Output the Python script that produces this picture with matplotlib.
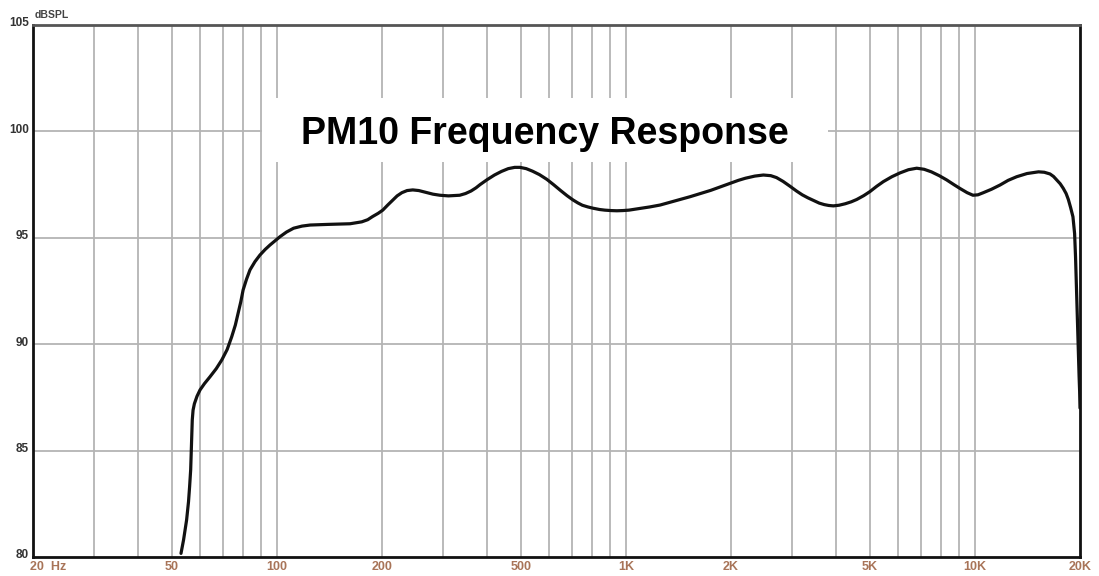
import matplotlib
matplotlib.use("Agg")
import matplotlib.pyplot as plt
import matplotlib.transforms as mtransforms
from matplotlib.patches import Rectangle

# ---- data ----
freq_hz = [53.1, 54.0, 55.1, 55.8, 56.2, 56.6, 56.8, 57.0, 57.2, 57.5, 58.0, 59.0,
           60.2, 62.0, 64.3, 67.0, 69.5, 72.0, 74.2, 76.0, 77.4, 78.8, 80.0, 81.8,
           83.7, 86.5, 89.4, 92.5, 95.5, 99, 102, 106.5, 111.6, 118, 124.5, 140,
           162, 175, 182, 188, 195, 201, 208, 215, 221, 228, 236, 245, 255, 265,
           280, 293, 310, 334, 347, 360, 372, 382, 400, 420, 440, 460, 480, 497,
           518, 540, 565, 593, 620, 650, 678, 705, 728, 750, 778, 805, 840, 870,
           905, 942, 980, 1020, 1060, 1097, 1170, 1253, 1380, 1526, 1650, 1750,
           1870, 1986, 2100, 2200, 2340, 2476, 2600, 2700, 2820, 2953, 3080, 3200,
           3320, 3444, 3580, 3700, 3810, 3929, 4080, 4250, 4420, 4584, 4800, 5000,
           5230, 5465, 5780, 6100, 6450, 6810, 7150, 7500, 7900, 8298, 8700, 9100,
           9500, 9870, 10200, 10570, 11150, 11800, 12450, 13170, 14100, 15210,
           15800, 16410, 16800, 17150, 17550, 17900, 18250, 18520, 18800, 19090,
           19300, 19420, 19520, 19610, 19700, 19800, 19880, 19950, 20000]
spl_db = [80.17, 80.8, 81.74, 82.6, 83.3, 84.1, 84.87, 85.7, 86.44, 86.9, 87.2, 87.55,
          87.85, 88.15, 88.47, 88.85, 89.26, 89.75, 90.35, 90.9, 91.45, 92.0, 92.55,
          93.05, 93.49, 93.88, 94.19, 94.45, 94.66, 94.87, 95.05, 95.27, 95.45, 95.55,
          95.6, 95.63, 95.66, 95.75, 95.85, 96.0, 96.15, 96.3, 96.55, 96.78, 96.97,
          97.12, 97.22, 97.25, 97.22, 97.15, 97.05, 97.0, 96.97, 97.0, 97.08, 97.2,
          97.35, 97.5, 97.73, 97.95, 98.12, 98.25, 98.31, 98.31, 98.25, 98.13, 97.97,
          97.75, 97.5, 97.22, 96.98, 96.78, 96.64, 96.53, 96.45, 96.39, 96.33, 96.3,
          96.28, 96.27, 96.28, 96.3, 96.34, 96.38, 96.45, 96.54, 96.73, 96.93, 97.1,
          97.23, 97.4, 97.55, 97.7, 97.8, 97.9, 97.95, 97.92, 97.83, 97.65, 97.42,
          97.2, 97.02, 96.88, 96.76, 96.63, 96.56, 96.52, 96.5, 96.53, 96.6, 96.69,
          96.8, 96.98, 97.17, 97.42, 97.64, 97.87, 98.05, 98.2, 98.27, 98.22, 98.1,
          97.92, 97.72, 97.5, 97.3, 97.12, 97.0, 97.02, 97.12, 97.28, 97.48, 97.7,
          97.87, 98.02, 98.1, 98.08, 98.0, 97.88, 97.72, 97.54, 97.33, 97.08, 96.8,
          96.42, 95.99, 95.2, 94.1, 92.85, 91.6, 90.5, 89.4, 88.5, 87.8, 87.0]

x_ticks = [20, 50, 100, 200, 500, 1000, 2000, 5000, 10000, 20000]
x_tick_labels = ["20  Hz", "50", "100", "200", "500", "1K", "2K", "5K", "10K", "20K"]
y_ticks = [80, 85, 90, 95, 100, 105]
y_tick_labels = ["80", "85", "90", "95", "100", "105"]
title_text = "PM10 Frequency Response"
y_unit = "dBSPL"

# ---- figure ----
W, H, DPI = 1099, 576, 100
fig = plt.figure(figsize=(W / DPI, H / DPI), dpi=DPI)
fig.patch.set_facecolor("white")
L, R, T, B = 33, 1080, 25, 557
ax = fig.add_axes([L / W, 1 - B / H, (R - L) / W, (B - T) / H])
ax.set_xscale("log")
ax.set_xlim(20, 20000)
ax.set_ylim(80, 105)

# grid
grid_c = "#b4b4b4"
minor_x = [m * 10 ** d for d in range(1, 5) for m in range(1, 10)]
minor_x = [v for v in minor_x if 20 < v < 20000]
for v in minor_x:
    ax.axvline(v, color=grid_c, lw=1.3, zorder=1)
for v in y_ticks[1:-1]:
    ax.axhline(v, color=grid_c, lw=1.3, zorder=1)

# curve
ax.plot(freq_hz, spl_db, color="#111111", lw=2.3, zorder=4,
        solid_capstyle="round", solid_joinstyle="round")

# spines
for s in ax.spines.values():
    s.set_color("#111111")
    s.set_linewidth(2)
ax.spines["top"].set_color("#555555")

# ticks
ax.set_xticks(x_ticks)
ax.set_xticklabels(x_tick_labels)
ax.xaxis.set_minor_locator(matplotlib.ticker.NullLocator())
ax.set_yticks(y_ticks)
ax.set_yticklabels(y_tick_labels)
ax.tick_params(axis="both", length=0)
ax.tick_params(axis="x", pad=3)
ax.tick_params(axis="y", pad=3)
for lab in ax.get_xticklabels():
    lab.set_fontfamily("Liberation Sans")
    lab.set_fontweight("bold")
    lab.set_fontsize(9)
    lab.set_color("#a87458")
xl = ax.get_xticklabels()
xl[0].set_ha("left")
xl[0].set_transform(xl[0].get_transform() +
                    mtransforms.ScaledTranslation(-3 / DPI, 0, fig.dpi_scale_trans))
for lab in ax.get_yticklabels():
    lab.set_fontfamily("Liberation Sans")
    lab.set_fontweight("bold")
    lab.set_fontsize(8.5)
    lab.set_color("#333333")
    lab.set_transform(lab.get_transform() +
                      mtransforms.ScaledTranslation(0, 3 / DPI, fig.dpi_scale_trans))

# unit label
fig.text(35 / W, 1 - 15 / H, y_unit, fontsize=7.5, fontweight="bold",
         family="Liberation Sans", color="#444444", ha="left", va="center")

# title box
box = Rectangle((262 / W, 1 - 162 / H), (828 - 262) / W, (162 - 98) / H,
                transform=fig.transFigure, facecolor="white", edgecolor="none",
                zorder=3)
fig.patches.append(box)
fig.text(545 / W, 1 - 134 / H, title_text, fontsize=27, fontweight="bold",
         family="Liberation Sans", color="black", ha="center", va="center",
         zorder=5)

fig.savefig("out.png", dpi=DPI)
